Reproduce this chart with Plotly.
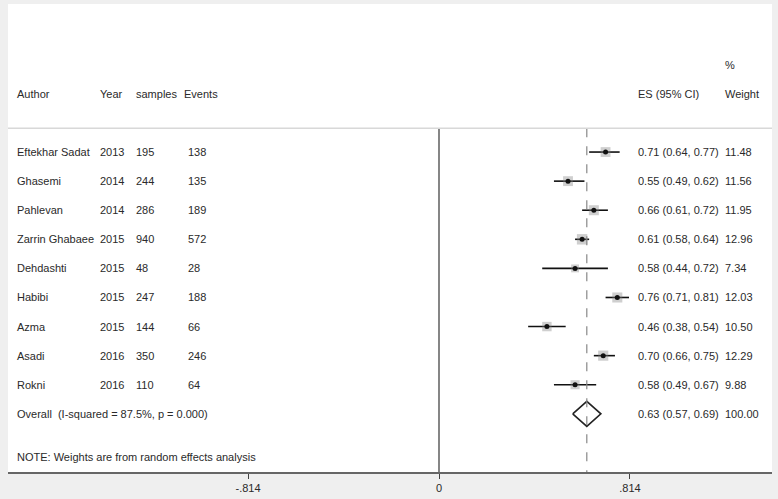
import plotly.graph_objects as go

authors = ["Eftekhar Sadat", "Ghasemi", "Pahlevan", "Zarrin Ghabaee", "Dehdashti",
           "Habibi", "Azma", "Asadi", "Rokni"]
years = ["2013", "2014", "2014", "2015", "2015", "2015", "2015", "2016", "2016"]
samples = ["195", "244", "286", "940", "48", "247", "144", "350", "110"]
events = ["138", "135", "189", "572", "28", "188", "66", "246", "64"]
es = [0.71, 0.55, 0.66, 0.61, 0.58, 0.76, 0.46, 0.70, 0.58]
lo = [0.64, 0.49, 0.61, 0.58, 0.44, 0.71, 0.38, 0.66, 0.49]
hi = [0.77, 0.62, 0.72, 0.64, 0.72, 0.81, 0.54, 0.75, 0.67]
weights = [11.48, 11.56, 11.95, 12.96, 7.34, 12.03, 10.50, 12.29, 9.88]
overall_es, overall_lo, overall_hi, overall_w = 0.63, 0.57, 0.69, 100.00
overall_label = "Overall  (I-squared = 87.5%, p = 0.000)"
note = "NOTE: Weights are from random effects analysis"
tick_vals = [-0.814, 0, 0.814]
tick_text = ["-.814", "0", ".814"]

rows = list(range(1, len(authors) + 1))
overall_row = len(authors) + 1
FONT = "Liberation Sans, Arial, sans-serif"
TXT = "#2a2a2a"
FS = 11

fig = go.Figure()

# CI lines
for r, l, h in zip(rows, lo, hi):
    fig.add_trace(go.Scatter(x=[l, h], y=[r, r], mode="lines",
                             line=dict(color="#111111", width=1.6),
                             hoverinfo="skip", showlegend=False))
# weight boxes
fig.add_trace(go.Scatter(x=es, y=rows, mode="markers",
                         marker=dict(symbol="square", size=[2.9 * w ** 0.5 for w in weights],
                                     color="rgba(130,130,130,0.55)", line=dict(width=0)),
                         hoverinfo="skip", showlegend=False))
# point estimates
fig.add_trace(go.Scatter(x=es, y=rows, mode="markers",
                         marker=dict(symbol="circle", size=5, color="#111111"),
                         hoverinfo="skip", showlegend=False))
# overall diamond
dh = 0.43
fig.add_trace(go.Scatter(
    x=[overall_lo, overall_es, overall_hi, overall_es, overall_lo],
    y=[overall_row, overall_row - dh, overall_row, overall_row + dh, overall_row],
    mode="lines", line=dict(color="#222222", width=1.6),
    hoverinfo="skip", showlegend=False))

y_top, y_bot = -4.09, 12.0
shapes = [
    dict(type="line", xref="x", yref="y", x0=0, x1=0, y0=0.18, y1=y_bot,
         line=dict(color="#444444", width=1.3)),
    dict(type="line", xref="x", yref="y", x0=overall_es, x1=overall_es, y0=0.18, y1=y_bot,
         line=dict(color="#888888", width=1.2, dash="dash")),
    dict(type="line", xref="paper", yref="y", x0=0, x1=1, y0=0.18, y1=0.18,
         line=dict(color="#d8d8d8", width=1.5)),
]

W = 764.0
def px(p):
    return (p - 10) / W

ann = []
def add(text, xp, y):
    ann.append(dict(text=text, x=px(xp), y=y, xref="paper", yref="y",
                    xanchor="left", yanchor="middle", showarrow=False,
                    font=dict(family=FONT, size=FS, color=TXT)))

add("Author", 17, -1)
add("Year", 100, -1)
add("samples", 136, -1)
add("Events", 184, -1)
add("ES (95% CI)", 638, -1)
add("%", 725, -2)
add("Weight", 725, -1)
for r, a, yv, s, e, v, l, h, w in zip(rows, authors, years, samples, events, es, lo, hi, weights):
    add(a, 17, r)
    add(yv, 100, r)
    add(s, 136, r)
    add(e, 188, r)
    add(f"{v:.2f} ({l:.2f}, {h:.2f})", 638, r)
    add(f"{w:.2f}", 725, r)
add(overall_label, 17, overall_row)
add(f"{overall_es:.2f} ({overall_lo:.2f}, {overall_hi:.2f})", 638, overall_row)
add(f"{overall_w:.2f}", 725, overall_row)
add(note, 17, overall_row + 1.5)

x0 = (8 - 439) / 234.6
x1 = (772 - 439) / 234.6

fig.update_layout(
    width=778, height=499,
    margin=dict(l=8, r=6, t=4, b=27),
    paper_bgcolor="#efefef",
    plot_bgcolor="white",
    shapes=shapes,
    annotations=ann,
    xaxis=dict(range=[x0, x1], showgrid=False, zeroline=False,
               showline=True, linecolor="#666666", linewidth=1.5,
               tickvals=tick_vals, ticktext=tick_text, ticks="outside",
               ticklen=5, tickcolor="#444444",
               tickfont=dict(family=FONT, size=FS, color=TXT)),
    yaxis=dict(range=[y_bot, y_top], showgrid=False, zeroline=False,
               showticklabels=False, showline=False),
)

fig.write_html("out.html", config={"displayModeBar": False},
               post_script="document.body.style.margin='0';document.body.style.overflow='hidden';")
